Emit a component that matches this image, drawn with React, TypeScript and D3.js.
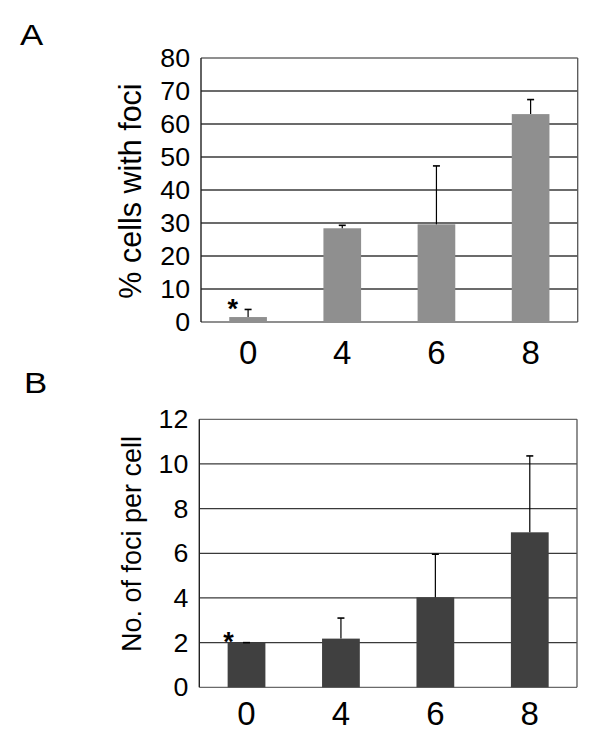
import React from "react";
import * as d3 from "d3";

const categories = ["0", "4", "6", "8"];
const meansA = [1.5, 28.4, 29.6, 63.0];
const errorsA = [2.3, 0.9, 17.7, 4.4];
const ticksA = [0, 10, 20, 30, 40, 50, 60, 70, 80];
const meansB = [2.0, 2.18, 4.03, 6.94];
const errorsB = [0, 0.92, 1.93, 3.42];
const ticksB = [0, 2, 4, 6, 8, 10, 12];
const starredA = ["0"];
const starredB = ["0"];

const FONT = "'Liberation Sans', Arial, Helvetica, sans-serif";

type PanelProps = {
  letter: string;
  letterX: number;
  letterY: number;
  left: number;
  right: number;
  top: number;
  bottom: number;
  means: number[];
  errors: number[];
  ticks: number[];
  yMax: number;
  color: string;
  yLabel: string;
  yLabelSize: number;
  yLabelCenter: number;
  xLabelBaseline: number;
  starred: string[];
  starDy: number;
  starDx: number;
};

function Panel(p: PanelProps) {
  const x = d3.scaleBand<string>().domain(categories).range([p.left, p.right]).padding(0);
  const y = d3.scaleLinear().domain([0, p.yMax]).range([p.bottom, p.top]);
  const bw = x.bandwidth() * 0.4;
  const cap = 3.5;
  return (
    <g>
      <text
        x={0}
        y={0}
        transform={`translate(${p.letterX},${p.letterY}) scale(1.2,1)`}
        fontFamily={FONT}
        fontSize={29}
        fill="#000"
      >
        {p.letter}
      </text>
      {/* gridlines */}
      {p.ticks.map((t) => (
        <line
          key={"g" + t}
          x1={p.left}
          x2={p.right}
          y1={y(t)}
          y2={y(t)}
          stroke={t === 0 || t === p.yMax ? "#6a6a6a" : "#3a3a3a"}
          strokeWidth={1.3}
        />
      ))}
      {/* right border */}
      <line x1={p.right} x2={p.right} y1={p.top} y2={p.bottom} stroke="#555" strokeWidth={1.3} />
      {/* bars */}
      {categories.map((c, i) => {
        const cx = (x(c) as number) + x.bandwidth() / 2;
        return (
          <rect
            key={"b" + c}
            x={cx - bw / 2}
            y={y(p.means[i])}
            width={bw}
            height={p.bottom - y(p.means[i])}
            fill={p.color}
          />
        );
      })}
      {/* error bars */}
      {categories.map((c, i) => {
        const cx = (x(c) as number) + x.bandwidth() / 2;
        const yt = y(p.means[i] + p.errors[i]);
        const yb = y(p.means[i]);
        return (
          <g key={"e" + c} stroke="#000" strokeWidth={1.2}>
            <line x1={cx} x2={cx} y1={yb} y2={yt} />
            <line x1={cx - cap} x2={cx + cap} y1={yt} y2={yt} strokeWidth={1.6} />
          </g>
        );
      })}
      {/* left axis */}
      <line x1={p.left} x2={p.left} y1={p.top} y2={p.bottom} stroke="#222" strokeWidth={1.4} />
      {/* y tick labels */}
      {p.ticks.map((t) => (
        <text
          key={"t" + t}
          x={0}
          y={0}
          transform={`translate(${p.left - 11},${y(t) + 9}) scale(1.07,1)`}
          textAnchor="end"
          fontFamily={FONT}
          fontSize={25}
          fill="#000"
        >
          {t}
        </text>
      ))}
      {/* x tick labels */}
      {categories.map((c) => (
        <text
          key={"x" + c}
          x={(x(c) as number) + x.bandwidth() / 2}
          y={p.xLabelBaseline}
          textAnchor="middle"
          fontFamily={FONT}
          fontSize={33}
          fill="#000"
        >
          {c}
        </text>
      ))}
      {/* asterisks */}
      {categories.map((c, i) =>
        p.starred.includes(c) ? (
          <text
            key={"s" + c}
            x={(x(c) as number) + x.bandwidth() / 2 - bw / 2 + p.starDx}
            y={y(p.means[i]) + p.starDy}
            textAnchor="middle"
            fontFamily={FONT}
            fontWeight="bold"
            fontSize={27}
            fill="#000"
          >
            *
          </text>
        ) : null
      )}
      {/* y axis title */}
      <text
        transform={`translate(141,${p.yLabelCenter}) rotate(-90)`}
        textAnchor="middle"
        fontFamily={FONT}
        fontSize={p.yLabelSize}
        fill="#000"
      >
        {p.yLabel}
      </text>
    </g>
  );
}

export default function App() {
  return (
    <svg
      width={600}
      height={746}
      style={{ position: "absolute", left: 0, top: 0, background: "#fff" }}
    >
      <rect x={0} y={0} width={600} height={746} fill="#fff" />
      <Panel
        letter="A"
        letterX={20}
        letterY={45}
        left={201}
        right={577.7}
        top={58}
        bottom={322}
        means={meansA}
        errors={errorsA}
        ticks={ticksA}
        yMax={80}
        color="#8f8f8f"
        yLabel="% cells with foci"
        yLabelSize={30.5}
        yLabelCenter={191}
        xLabelBaseline={364}
        starred={starredA}
        starDy={1}
        starDx={3.4}
      />
      <Panel
        letter="B"
        letterX={24}
        letterY={393}
        left={199.3}
        right={577}
        top={419.3}
        bottom={687.3}
        means={meansB}
        errors={errorsB}
        ticks={ticksB}
        yMax={12}
        color="#404040"
        yLabel="No. of foci per cell"
        yLabelSize={27}
        yLabelCenter={544}
        xLabelBaseline={725}
        starred={starredB}
        starDy={8}
        starDx={1}
      />
    </svg>
  );
}
